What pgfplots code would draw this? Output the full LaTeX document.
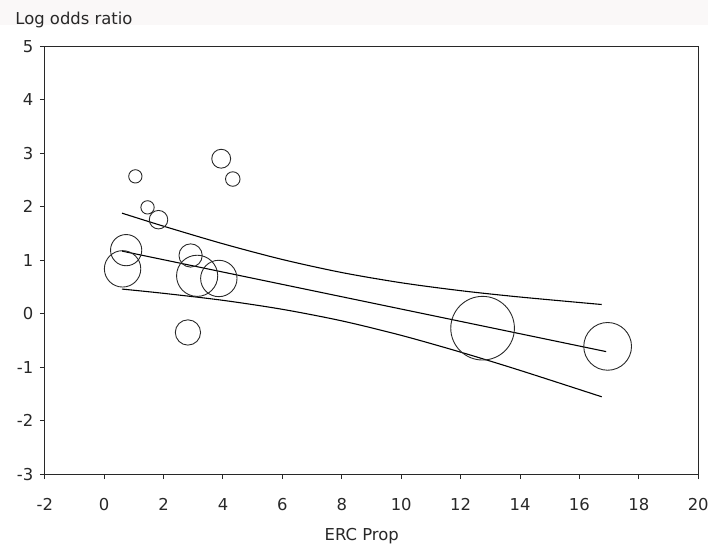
\documentclass[border=0pt]{standalone}
\usepackage{fontspec}
\setmainfont{DejaVu Sans}
\usepackage{pgfplots}
\pgfplotsset{compat=1.18}
\definecolor{ink}{RGB}{40,40,40}
\definecolor{band}{RGB}{250,248,248}

\begin{document}
\begin{tikzpicture}
\begin{axis}[
    scale only axis,
    width=657pt, height=430pt,
    xmin=-2, xmax=20, ymin=-3, ymax=5,
    xtick={-2,0,...,20}, ytick={-3,-2,...,5},
    tick align=outside, xtick pos=bottom, ytick pos=left,
    major tick length=5pt,
    axis line style={ink, line width=1.1pt},
    every tick/.style={ink, line width=1pt},
    /pgf/number format/assume math mode=true,
    tick label style={font=\fontsize{16.5}{19}\selectfont, text=ink},
    xticklabel style={yshift=-16pt},
    yticklabel style={xshift=-3pt},
    xlabel={ERC Prop},
    every axis x label/.style={at={(rel axis cs:0.485,0)}, anchor=base, yshift=-67pt,
        font=\fontsize{16.5}{19}\selectfont, text=ink},
    ylabel={Log odds ratio},
    every axis y label/.style={at={(rel axis cs:0,1)}, anchor=base west, xshift=-33pt, yshift=22pt,
        font=\fontsize{16.5}{19}\selectfont, text=ink},
    clip=false,
]
% faint band behind the title line
\fill[band] (rel axis cs:-0.0685,1.1086) rectangle (rel axis cs:1.0152,1.0505);
\coordinate (O) at (rel axis cs:0,0);

% fitted meta-regression line
\addplot[black, line width=1.1pt] coordinates {(0.6,1.172) (16.9,-0.708)};

% upper and lower 95% bands
\addplot[black, line width=1.1pt, smooth] coordinates {
    (0.6,1.882) (2,1.638) (4,1.309) (6,1.015) (8,0.771)
    (10,0.580) (12,0.432) (14,0.313) (16.75,0.173)};
\addplot[black, line width=1.1pt, smooth] coordinates {
    (0.6,0.462) (2,0.382) (4,0.251) (6,0.083) (8,-0.133)
    (10,-0.404) (12,-0.718) (14,-1.059) (16.75,-1.553)};

% studies, circle radius (pt) ~ weight
\addplot[scatter, only marks, mark=o, line width=0.9pt,
    point meta=\thisrow{r},
    scatter/use mapped color={draw=ink, fill=none},
    visualization depends on={\thisrow{r} \as \rad},
    scatter/@pre marker code/.append style={/tikz/mark size=\rad pt}]
    table {
x y r
1.05 2.57 6.7
3.94 2.90 9.5
4.33 2.52 7.3
1.46 1.99 6.7
1.83 1.76 9.3
0.74 1.19 15.7
0.62 0.84 18.3
2.91 1.09 11.7
3.13 0.71 20.7
3.86 0.66 18.3
2.82 -0.35 12.7
12.74 -0.27 32
16.95 -0.61 24
};
\end{axis}
\path[use as bounding box] ([shift={(-45pt,-76.3pt)}]O) rectangle ([shift={(667pt,476.7pt)}]O);
\end{tikzpicture}
\end{document}
